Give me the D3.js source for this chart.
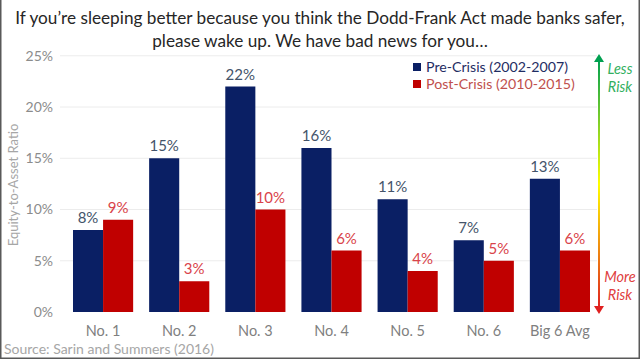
<!DOCTYPE html>
<html>
<head>
<meta charset="utf-8">
<script src="https://cdn.jsdelivr.net/npm/d3@7"></script>
<style>
  body { margin: 0; background: #fff; }
  svg text { font-family: Lato, "Open Sans", sans-serif; }
</style>
</head>
<body>
<div id="chart"></div>
<script>
// Données
const banks = ["No. 1", "No. 2", "No. 3", "No. 4", "No. 5", "No. 6", "Big 6 Avg"]
const preCrisis = [8, 15, 22, 16, 11, 7, 13]
const postCrisis = [9, 3, 10, 6, 4, 5, 6]
const seriesNames = ["Pre-Crisis (2002-2007)", "Post-Crisis (2010-2015)"]
const yTicks = [0, 5, 10, 15, 20, 25]

const width = 641, height = 361

const svg = d3.select("#chart")
  .append("svg")
    .attr("width", width)
    .attr("height", height)

// Cadre
svg.append("rect")
  .attr("x", 0.75).attr("y", -2)
  .attr("width", 638.5).attr("height", 360.25)
  .attr("fill", "none")
  .attr("stroke", "#595959")
  .attr("stroke-width", 1.5)

// Titre
const title = ["If you\u2019re sleeping better because you think the Dodd-Frank Act made banks safer,",
               "please wake up. We have bad news for you\u2026"]
svg.selectAll(".title")
  .data(title)
  .join("text")
    .attr("x", 320)
    .attr("y", (d, i) => 24 + i * 23)
    .attr("text-anchor", "middle")
    .style("font-size", "17.2px")
    .style("fill", "#262626")
    .text(d => d)

// Échelles
const x = d3.scaleBand()
  .domain(banks)
  .range([65, 598])
  .paddingInner(0.21)
  .paddingOuter(0.105)

const xSub = d3.scaleBand()
  .domain(seriesNames)
  .range([0, x.bandwidth()])

const y = d3.scaleLinear()
  .domain([0, 25])
  .range([312, 55.75])

// Grille
svg.append("g")
  .selectAll("line")
  .data(yTicks.slice(1))
  .join("line")
    .attr("x1", 60).attr("x2", 597)
    .attr("y1", d => y(d)).attr("y2", d => y(d))
    .attr("stroke", "#ececec")
    .attr("stroke-width", 1)

// Axe Y
const yAxis = svg.append("g")
  .attr("transform", "translate(53,0)")
  .call(d3.axisLeft(y).tickValues(yTicks).tickFormat(d => d + "%").tickSize(0).tickPadding(0))
yAxis.select(".domain").remove()
yAxis.selectAll("text")
  .style("font-size", "14px")
  .style("fill", "#8c8c8c")
  .style("font-family", "Lato, sans-serif")

svg.append("text")
  .attr("transform", "translate(18,185) rotate(-90)")
  .attr("text-anchor", "middle")
  .style("font-size", "13px")
  .style("fill", "#a6a6a6")
  .text("Equity-to-Asset Ratio")

// Axe X
const xAxis = svg.append("g")
  .attr("transform", "translate(0,312)")
  .call(d3.axisBottom(x).tickSize(0).tickPadding(14))
xAxis.select(".domain").remove()
xAxis.selectAll("text")
  .style("font-size", "14.5px")
  .style("fill", "#7f7f7f")
  .style("font-family", "Lato, sans-serif")

// Barres
const colors = ["#0a1f64", "#c00000"]
const labelColors = ["#44546a", "#d9434a"]
const rows = banks.map((b, i) => ({bank: b, values: [preCrisis[i], postCrisis[i]]}))

const groups = svg.append("g")
  .selectAll("g")
  .data(rows)
  .join("g")
    .attr("transform", d => `translate(${x(d.bank)},0)`)

groups.selectAll("rect")
  .data(d => d.values.map((v, k) => ({key: seriesNames[k], k: k, v: v})))
  .join("rect")
    .attr("x", d => xSub(d.key))
    .attr("y", d => y(d.v))
    .attr("width", xSub.bandwidth())
    .attr("height", d => y(0) - y(d.v))
    .attr("fill", d => colors[d.k])

groups.selectAll("text")
  .data(d => d.values.map((v, k) => ({key: seriesNames[k], k: k, v: v})))
  .join("text")
    .attr("x", d => xSub(d.key) + xSub.bandwidth() / 2)
    .attr("y", d => y(d.v) - 7)
    .attr("text-anchor", "middle")
    .style("font-size", "15px")
    .style("fill", d => labelColors[d.k])
    .text(d => d.v + "%")

// Légende
const legend = svg.append("g")
  .selectAll("g")
  .data(seriesNames)
  .join("g")
    .attr("transform", (d, i) => `translate(413,${67 + i * 17})`)
legend.append("rect")
  .attr("x", 0).attr("y", -4)
  .attr("width", 8).attr("height", 8)
  .attr("fill", (d, i) => colors[i])
legend.append("text")
  .attr("x", 13).attr("y", 5)
  .style("font-size", "14.2px")
  .style("fill", (d, i) => i == 0 ? "#1f2d63" : "#c0504d")
  .text(d => d)

// Flèche de risque
const defs = svg.append("defs")
const grad = defs.append("linearGradient")
  .attr("id", "riskGrad")
  .attr("x1", 0).attr("y1", 0).attr("x2", 0).attr("y2", 1)
grad.append("stop").attr("offset", "0%").attr("stop-color", "#00a050")
grad.append("stop").attr("offset", "50%").attr("stop-color", "#ffff00")
grad.append("stop").attr("offset", "100%").attr("stop-color", "#e02020")

svg.append("rect")
  .attr("x", 598).attr("y", 60)
  .attr("width", 2).attr("height", 248)
  .attr("fill", "url(#riskGrad)")
svg.append("path")
  .attr("d", "M594,62 L599,54 L604,62 Z")
  .attr("fill", "#00a050")
svg.append("path")
  .attr("d", "M594,306 L599,314 L604,306 Z")
  .attr("fill", "#e02020")

svg.selectAll(".less")
  .data(["Less", "Risk"])
  .join("text")
    .attr("x", 620).attr("y", (d, i) => 74 + i * 18)
    .attr("text-anchor", "middle")
    .style("font-size", "14.5px")
    .style("font-style", "italic")
    .style("fill", "#33b060")
    .text(d => d)

svg.selectAll(".more")
  .data(["More", "Risk"])
  .join("text")
    .attr("x", 620).attr("y", (d, i) => 282 + i * 18)
    .attr("text-anchor", "middle")
    .style("font-size", "14.5px")
    .style("font-style", "italic")
    .style("fill", "#e04040")
    .text(d => d)

// Source
svg.append("text")
  .attr("x", 4).attr("y", 354)
  .style("font-size", "14px")
  .style("fill", "#a6a6a6")
  .text("Source: Sarin and Summers (2016)")
</script>
</body>
</html>
